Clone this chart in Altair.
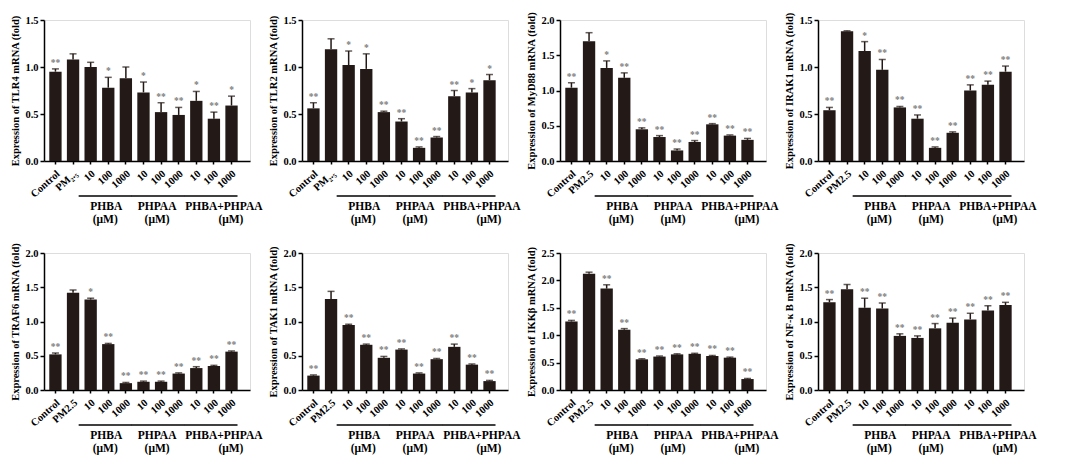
import altair as alt
import pandas as pd

categories = ["Control", "PM2.5", "PHBA 10", "PHBA 100", "PHBA 1000",
              "PHPAA 10", "PHPAA 100", "PHPAA 1000",
              "PHBA+PHPAA 10", "PHBA+PHPAA 100", "PHBA+PHPAA 1000"]

tlr4_mean = [0.95, 1.08, 1.00, 0.78, 0.88, 0.73, 0.52, 0.49, 0.64, 0.45, 0.59]
tlr4_err = [0.03, 0.06, 0.05, 0.11, 0.12, 0.11, 0.10, 0.08, 0.10, 0.07, 0.10]
tlr4_sig = ["**", "", "", "*", "", "*", "**", "**", "*", "**", "*"]

tlr2_mean = [0.56, 1.19, 1.02, 0.98, 0.52, 0.42, 0.14, 0.25, 0.69, 0.73, 0.86]
tlr2_err = [0.06, 0.11, 0.15, 0.16, 0.01, 0.03, 0.01, 0.01, 0.06, 0.04, 0.06]
tlr2_sig = ["**", "", "*", "*", "**", "**", "**", "**", "**", "*", "*"]

myd88_mean = [1.04, 1.70, 1.32, 1.18, 0.45, 0.34, 0.15, 0.27, 0.52, 0.36, 0.30]
myd88_err = [0.07, 0.12, 0.10, 0.07, 0.02, 0.02, 0.02, 0.02, 0.01, 0.01, 0.02]
myd88_sig = ["**", "", "*", "**", "**", "**", "**", "**", "**", "**", "**"]

irak1_mean = [0.54, 1.38, 1.17, 0.97, 0.57, 0.45, 0.14, 0.30, 0.75, 0.81, 0.95]
irak1_err = [0.03, 0.005, 0.10, 0.11, 0.01, 0.04, 0.01, 0.01, 0.06, 0.04, 0.06]
irak1_sig = ["**", "", "*", "**", "**", "**", "**", "**", "**", "**", "**"]

traf6_mean = [0.52, 1.42, 1.32, 0.67, 0.10, 0.12, 0.12, 0.24, 0.32, 0.35, 0.56]
traf6_err = [0.02, 0.04, 0.02, 0.01, 0.01, 0.01, 0.01, 0.01, 0.02, 0.01, 0.01]
traf6_sig = ["**", "", "*", "**", "**", "**", "**", "**", "**", "**", "**"]

tak1_mean = [0.21, 1.33, 0.95, 0.66, 0.47, 0.59, 0.24, 0.45, 0.63, 0.37, 0.13]
tak1_err = [0.01, 0.11, 0.01, 0.01, 0.02, 0.01, 0.01, 0.01, 0.04, 0.01, 0.01]
tak1_sig = ["**", "", "**", "**", "**", "**", "**", "**", "**", "**", "**"]

ikkb_mean = [1.25, 2.12, 1.85, 1.10, 0.56, 0.61, 0.65, 0.66, 0.62, 0.59, 0.20]
ikkb_err = [0.02, 0.03, 0.07, 0.02, 0.01, 0.01, 0.01, 0.01, 0.01, 0.01, 0.01]
ikkb_sig = ["**", "", "**", "**", "**", "**", "**", "**", "**", "**", "**"]

nfkb_mean = [1.28, 1.47, 1.20, 1.19, 0.79, 0.76, 0.90, 0.98, 1.03, 1.16, 1.24]
nfkb_err = [0.04, 0.07, 0.14, 0.08, 0.03, 0.03, 0.07, 0.07, 0.09, 0.07, 0.04]
nfkb_sig = ["**", "", "**", "**", "**", "**", "**", "**", "**", "**", "**"]

y_ticks_15 = [0.0, 0.5, 1.0, 1.5]
y_ticks_20 = [0.0, 0.5, 1.0, 1.5, 2.0]
y_ticks_25 = [0.0, 0.5, 1.0, 1.5, 2.0, 2.5]

panels = [
    ("Expression of TLR4 mRNA (fold)", y_ticks_15, tlr4_mean, tlr4_err, tlr4_sig, True),
    ("Expression of TLR2 mRNA (fold)", y_ticks_15, tlr2_mean, tlr2_err, tlr2_sig, True),
    ("Expression of MyD88 mRNA (fold)", y_ticks_20, myd88_mean, myd88_err, myd88_sig, False),
    ("Expression of IRAK1 mRNA (fold)", y_ticks_15, irak1_mean, irak1_err, irak1_sig, False),
    ("Expression of TRAF6 mRNA (fold)", y_ticks_20, traf6_mean, traf6_err, traf6_sig, False),
    ("Expression of TAK1 mRNA (fold)", y_ticks_20, tak1_mean, tak1_err, tak1_sig, False),
    ("Expression of IKK\u03b2  mRNA (fold)", y_ticks_25, ikkb_mean, ikkb_err, ikkb_sig, False),
    ("Expression of NF-\u03ba B mRNA (fold)", y_ticks_20, nfkb_mean, nfkb_err, nfkb_sig, False),
]

group_names = ["PHBA", "PHPAA", "PHBA+PHPAA"]
group_start = ["PHBA 10", "PHPAA 10", "PHBA+PHPAA 10"]
group_mid = ["PHBA 100", "PHPAA 100", "PHBA+PHPAA 100"]
group_end = ["PHBA 1000", "PHPAA 1000", "PHBA+PHPAA 1000"]
group_unit = ["(\u03bcM)", "(\u03bcM)", "(\u03bcM)"]
name_dx = [-2, -4, 10]
unit_dx = [-3, -4, 17]

BAR = "#231916"
FONT = "Liberation Serif"
W = 206


def panel(title, ticks, mean, err, sig, sub, h):
    df = pd.DataFrame({"cat": categories, "mean": mean, "err": err, "sig": sig})
    df["top"] = df["mean"] + df["err"]
    pm = "PM\u2082.\u2085" if sub else "PM2.5"
    label_expr = ("datum.label == 'PM2.5' ? '" + pm + "' : "
                  "peek(split(datum.label, ' '))")
    xs = alt.Scale(domain=categories, paddingInner=0.3, paddingOuter=0.5, align=0.3)
    xaxis = alt.Axis(labelAngle=-42, labelExpr=label_expr, labelFont=FONT,
                     labelFontWeight="bold", labelFontSize=10.5, labelColor="black",
                     labelAlign="right", labelBaseline="middle",
                     tickSize=3, tickColor="black", domainColor="black",
                     domainWidth=1.5, tickWidth=1.5, labelPadding=8, labelOffset=3)
    ys = alt.Scale(domain=[0, ticks[-1]], nice=False, zero=True)
    yaxis = alt.Axis(values=ticks, format=".1f", labelFont=FONT, labelOverlap=False,
                     labelFontWeight="bold", labelFontSize=10.5, labelColor="black",
                     titleFont=FONT, titleFontWeight="bold", titleFontSize=10.5,
                     titleColor="black", titlePadding=4,
                     tickSize=4, tickColor="black", tickWidth=1.5,
                     domainColor="black", domainWidth=1.5, grid=False)

    def X(f):
        return alt.X(f, scale=xs, sort=categories, title=None, axis=xaxis)

    def Y(f):
        return alt.Y(f, scale=ys, title=title, axis=yaxis)

    base = alt.Chart(df)
    bars = base.mark_bar(color=BAR).encode(x=X("cat:N"), y=Y("mean:Q"))
    erule = base.mark_rule(color=BAR, strokeWidth=1.5).encode(
        x=X("cat:N"), y=Y("mean:Q"), y2="top:Q")
    cap = base.mark_tick(color=BAR, thickness=1.5, size=7, orient="horizontal").encode(
        x=X("cat:N"), y=Y("top:Q"))
    stars = base.mark_text(color="#808080", font=FONT, fontSize=9.5, fontWeight="bold",
                           baseline="bottom", dy=-1).encode(
        x=X("cat:N"), y=Y("top:Q"), text="sig:N")
    gdf = pd.DataFrame({"name": group_names, "start": group_start, "mid": group_mid,
                        "end": group_end, "unit": group_unit})
    glines = alt.Chart(gdf).mark_rule(color="black", strokeWidth=1.5,
                                      xOffset=-12, x2Offset=6).encode(
        x=X("start:N"), x2="end:N", y=alt.value(h + 35))
    layers = [bars, erule, cap, stars, glines]
    for i in range(3):
        one = gdf.iloc[[i]]
        layers.append(alt.Chart(one).mark_text(
            font=FONT, fontWeight="bold", fontSize=11.5, color="black",
            baseline="middle", dx=name_dx[i]).encode(
            x=X("mid:N"), y=alt.value(h + 46), text="name:N"))
        layers.append(alt.Chart(one).mark_text(
            font=FONT, fontWeight="bold", fontSize=11.5, color="black",
            baseline="middle", dx=unit_dx[i]).encode(
            x=X("mid:N"), y=alt.value(h + 59), text="unit:N"))
    return alt.layer(*layers).properties(width=W, height=h)


row1 = alt.hconcat(*[panel(*p, h=141) for p in panels[:4]], spacing=4)
row2 = alt.hconcat(*[panel(*p, h=137) for p in panels[4:]], spacing=4)
chart = alt.vconcat(row1, row2, spacing=15).properties(
    padding={"left": 2, "top": 3, "right": 0, "bottom": 0}
).configure_view(stroke=None).configure(background="white")

chart.save("out.html", embed_options={"renderer": "svg", "actions": False})
